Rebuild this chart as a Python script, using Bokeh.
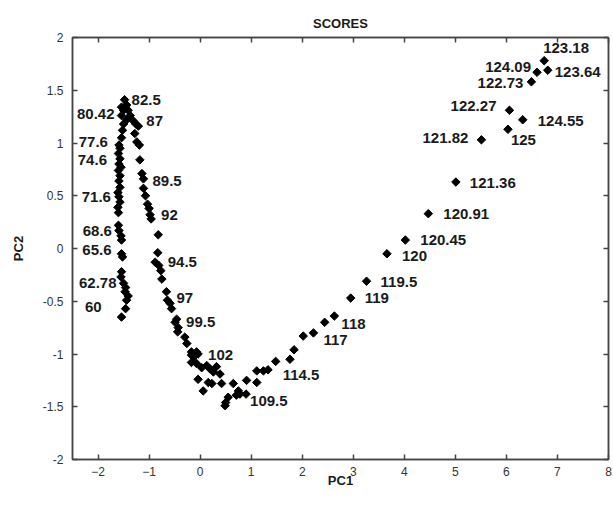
import math
from bokeh.plotting import figure
from bokeh.models import ColumnDataSource, LinearAxis, FixedTicker, Range1d
from bokeh.core.properties import value
from bokeh.embed import file_html
from bokeh.resources import INLINE

# PCA scores, ordered by sample value (60 .. 125)
pc1 = [
    -1.54, -1.46, -1.44, -1.41, -1.47, -1.46, -1.50, -1.55, -1.54, -1.52,
    -1.54, -1.54, -1.55, -1.59, -1.60, -1.60, -1.61, -1.57, -1.59, -1.61,
    -1.57, -1.59, -1.57, -1.60, -1.55, -1.59, -1.57, -1.60, -1.57, -1.59,
    -1.54, -1.52, -1.50, -1.54, -1.50, -1.54, -1.48, -1.44, -1.41, -1.37,
    -1.44, -1.31, -1.26, -1.21, -1.28, -1.24, -1.19, -1.18, -1.14, -1.11,
    -1.11, -1.07, -1.03, -1.00, -0.98, -0.96, -0.82, -0.83, -0.88, -0.81,
    -0.77, -0.75, -0.66, -0.64, -0.59, -0.56, -0.49, -0.46, -0.43, -0.44,
    -0.30, -0.26, -0.17, -0.07, -0.04, -0.17, -0.13, -0.17, -0.07, 0.03,
    0.13, 0.19, 0.26, 0.32, 0.39, -0.04, 0.16, 0.23, 0.06, 0.42,
    0.55, 0.50, 0.49, 0.71, 0.78, 0.65, 0.75, 0.90, 0.91, 1.11,
    1.11, 1.24, 1.33, 1.48, 1.76, 1.84, 2.02, 2.22, 2.44, 2.63,
    2.95, 3.26, 3.66, 4.02, 4.47, 5.01, 5.51, 6.06, 6.49, 6.74,
    6.81, 6.60, 6.32, 6.03,
]
pc2 = [
    -0.65, -0.57, -0.49, -0.45, -0.41, -0.37, -0.33, -0.27, -0.22, -0.08,
    -0.05, 0.08, 0.12, 0.17, 0.22, 0.34, 0.39, 0.44, 0.49, 0.53,
    0.58, 0.64, 0.69, 0.74, 0.77, 0.80, 0.85, 0.90, 0.95, 0.98,
    1.05, 1.12, 1.18, 1.26, 1.31, 1.34, 1.41, 1.36, 1.31, 1.26,
    1.22, 1.21, 1.18, 1.16, 1.09, 1.01, 0.98, 0.84, 0.71, 0.66,
    0.57, 0.50, 0.42, 0.38, 0.32, 0.28, 0.13, -0.04, -0.13, -0.16,
    -0.21, -0.29, -0.41, -0.49, -0.52, -0.57, -0.70, -0.67, -0.75, -0.79,
    -0.84, -0.90, -0.98, -0.98, -1.00, -1.01, -1.03, -1.08, -1.09, -1.13,
    -1.11, -1.14, -1.17, -1.12, -1.19, -1.24, -1.27, -1.28, -1.35, -1.28,
    -1.41, -1.46, -1.49, -1.39, -1.38, -1.28, -1.35, -1.38, -1.25, -1.27,
    -1.16, -1.16, -1.15, -1.07, -1.05, -0.96, -0.83, -0.80, -0.70, -0.64,
    -0.47, -0.31, -0.05, 0.08, 0.33, 0.63, 1.03, 1.31, 1.58, 1.78,
    1.69, 1.67, 1.22, 1.13,
]
# sample labels ("" = unlabelled point)
sample = [""] * len(pc1)
labelled = {
    1: "60", 6: "62.78", 10: "65.6", 13: "68.6", 18: "71.6", 26: "74.6",
    29: "77.6", 33: "80.42", 36: "82.5", 43: "87", 49: "89.5", 55: "92",
    59: "94.5", 63: "97", 66: "99.5", 74: "102", 97: "109.5", 103: "114.5",
    107: "117", 109: "118", 110: "119", 111: "119.5", 112: "120",
    113: "120.45", 114: "120.91", 115: "121.36", 116: "121.82",
    117: "122.27", 118: "122.73", 119: "123.18", 120: "123.64",
    121: "124.09", 122: "124.55", 123: "125",
}
for i, s in labelled.items():
    sample[i] = s

x_ticks = [-2, -1, 0, 1, 2, 3, 4, 5, 6, 7, 8]
y_ticks = [-2, -1.5, -1, -0.5, 0, 0.5, 1, 1.5, 2]
y_tick_labels = ["-2", "-1.5", "-1", "-0.5", "0", "0.5", "1", "1.5", "2"]

# label placement: pixel offset from the point and text alignment
label_place = {
    "60": (-24, -2, "right"), "62.78": (-7, 0, "right"), "65.6": (-10, -4, "right"),
    "68.6": (-7, 0, "right"), "71.6": (-8, 0, "right"), "74.6": (-13, 1, "right"),
    "77.6": (-11, -3, "right"), "80.42": (-7, -2, "right"), "82.5": (7, 0, "left"),
    "87": (8, -5, "left"), "89.5": (9, 2, "left"), "92": (10, -4, "left"),
    "94.5": (9, -3, "left"), "97": (9, -2, "left"), "99.5": (11, 0, "left"),
    "102": (10, 1, "left"), "109.5": (4, 7, "left"), "114.5": (7, 14, "left"),
    "117": (10, 7, "left"), "118": (7, 8, "left"), "119": (14, 0, "left"),
    "119.5": (14, 1, "left"), "120": (15, 2, "left"), "120.45": (15, 0, "left"),
    "120.91": (15, 0, "left"), "121.36": (14, 1, "left"), "121.82": (-13, -2, "right"),
    "122.27": (-13, -4, "right"), "122.73": (-8, 1, "right"), "124.09": (-6, -5, "right"),
    "123.18": (-1, -13, "left"), "123.64": (7, 2, "left"), "124.55": (15, 1, "left"),
    "125": (3, 11, "left"),
}

FONT = "Liberation Sans"
INK = "#1a1a1a"
FRAME = "#444444"

p = figure(width=613, height=505, x_range=Range1d(-2.5, 8), y_range=Range1d(-2, 2),
           output_backend="svg", toolbar_location=None,
           min_border_left=72, min_border_right=5, min_border_top=37, min_border_bottom=46,
           background_fill_color="white", border_fill_color="white")
p.grid.visible = False
p.outline_line_color = FRAME
p.outline_line_width = 1.5

p.title.text = "SCORES"
p.title.align = "center"
p.title.text_font = FONT
p.title.text_font_size = "13px"
p.title.text_font_style = "bold"
p.title.text_color = INK
p.title.standoff = 14

def style_axis(ax, ticks, show_labels=True):
    ax.ticker = FixedTicker(ticks=ticks)
    ax.major_tick_in = 5
    ax.major_tick_out = 0
    ax.minor_tick_line_color = None
    ax.axis_line_color = FRAME
    ax.axis_line_width = 1.5
    ax.major_tick_line_color = FRAME
    ax.major_tick_line_width = 1.5
    ax.major_label_text_font = FONT
    ax.major_label_text_color = "#333333"
    ax.major_label_text_font_size = "12px"
    if not show_labels:
        # box edge only: ticks without numbers
        ax.major_label_overrides = {t: "" for t in ticks}
        ax.major_label_standoff = 0

style_axis(p.xaxis[0], x_ticks)
style_axis(p.yaxis[0], y_ticks)
p.yaxis[0].major_label_overrides = {t: s for t, s in zip(y_ticks, y_tick_labels)}
p.xaxis[0].major_label_standoff = 7
p.yaxis[0].major_label_standoff = 9

for ax in (p.xaxis[0], p.yaxis[0]):
    ax.axis_label_text_font = FONT
    ax.axis_label_text_font_size = "13px"
    ax.axis_label_text_font_style = "bold"
    ax.axis_label_text_color = INK
p.xaxis[0].axis_label = "PC1"
p.xaxis[0].axis_label_standoff = -6
p.yaxis[0].axis_label = "PC2"
p.yaxis[0].axis_label_standoff = 14

top_ax = LinearAxis()
right_ax = LinearAxis()
style_axis(top_ax, x_ticks, show_labels=False)
style_axis(right_ax, y_ticks, show_labels=False)
p.add_layout(top_ax, "above")
p.add_layout(right_ax, "right")

# diamonds drawn as squares turned by 45 degrees
src = ColumnDataSource(dict(pc1=pc1, pc2=pc2))
p.scatter("pc1", "pc2", source=src, marker="square", angle=math.pi / 4,
          size=6, color="black")

for align in ("left", "right"):
    rows = [(pc1[i], pc2[i], s) for i, s in enumerate(sample)
            if s and label_place[s][2] == align]
    lsrc = ColumnDataSource(dict(
        x=[r[0] for r in rows], y=[r[1] for r in rows], text=[r[2] for r in rows],
        dx=[label_place[r[2]][0] for r in rows], dy=[label_place[r[2]][1] for r in rows]))
    p.text("x", "y", text="text", source=lsrc, x_offset="dx", y_offset="dy",
           text_align=align, text_baseline="middle", text_font=value(FONT),
           text_font_size="15px", text_font_style="bold", text_color=INK)

open("out.html", "w").write(file_html(p, INLINE))
